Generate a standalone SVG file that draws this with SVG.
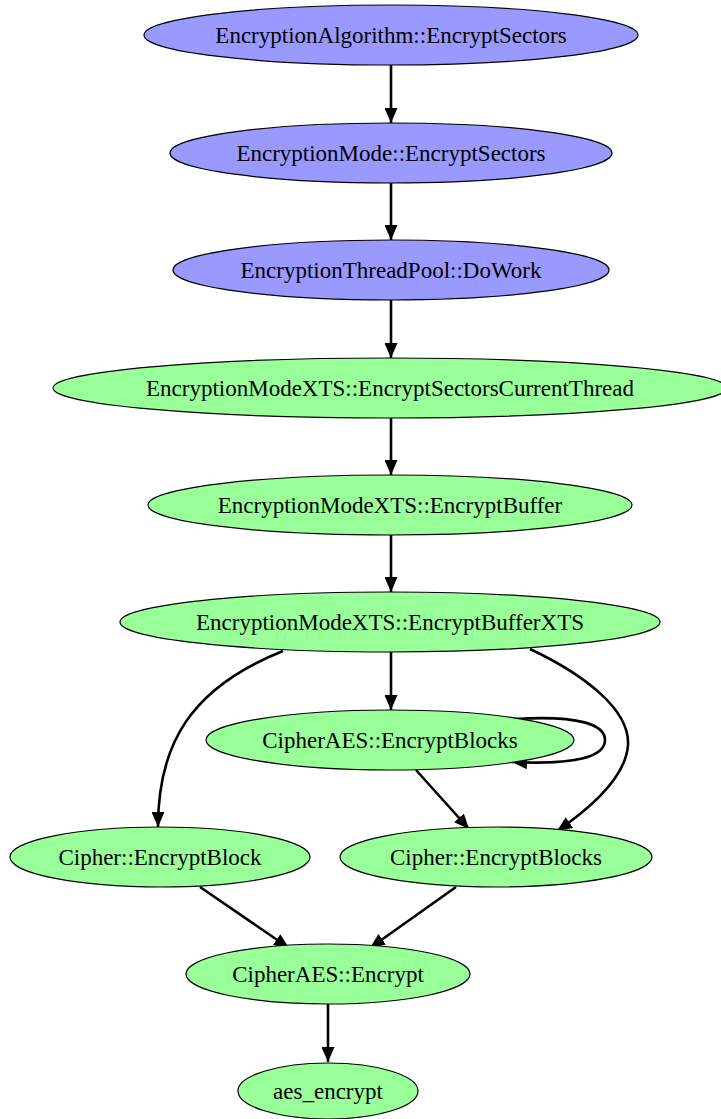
<svg xmlns="http://www.w3.org/2000/svg" width="721" height="1119" viewBox="0 0 721 1119">
<defs>
<style>
.n ellipse{stroke:#000;stroke-width:1.2}
.b ellipse{fill:#9999ff}
.g ellipse{fill:#99ff99}
text{font-family:"Liberation Serif","Times New Roman",serif;font-size:23px;text-anchor:middle;fill:#000}
.e path{fill:none;stroke:#000;stroke-width:2.6;marker-end:url(#ah)}
</style>
<marker id="ah" viewBox="0 0 15 13" refX="15" refY="6.5" markerWidth="15" markerHeight="13" markerUnits="userSpaceOnUse" orient="auto">
<path d="M0,0 L15,6.5 L0,13 z" fill="#000"/>
</marker>
</defs>
<rect width="721" height="1119" fill="#fff"/>
<g id="edges" class="e">
<path d="M391,65 V123"/>
<path d="M391,183 V240"/>
<path d="M391,300 V358"/>
<path d="M391,418 V475"/>
<path d="M391,535 V592"/>
<path d="M391,652 V710"/>
<path d="M283,651 C190,688 158,745 158,827"/>
<path d="M530,649 C585,675 630,710 628,745 C626,775 595,805 557,831"/>
<path d="M416,770 L469,829"/>
<path d="M515,719 C580,715 605,725 605,740 C605,757 575,765 512,762"/>
<path d="M200,887 L289,948"/>
<path d="M456,887 L370,948"/>
<path d="M328,1004 V1062"/>
</g>
<g id="n1" class="n b"><ellipse cx="391" cy="35" rx="247" ry="30"/><text x="391" y="43">EncryptionAlgorithm::EncryptSectors</text></g>
<g id="n2" class="n b"><ellipse cx="391" cy="153" rx="221" ry="30"/><text x="391" y="161">EncryptionMode::EncryptSectors</text></g>
<g id="n3" class="n b"><ellipse cx="391" cy="270" rx="218" ry="30"/><text x="391" y="278">EncryptionThreadPool::DoWork</text></g>
<g id="n4" class="n g"><ellipse cx="390" cy="388" rx="337" ry="30"/><text x="390" y="396">EncryptionModeXTS::EncryptSectorsCurrentThread</text></g>
<g id="n5" class="n g"><ellipse cx="390" cy="505" rx="242" ry="30"/><text x="390" y="513">EncryptionModeXTS::EncryptBuffer</text></g>
<g id="n6" class="n g"><ellipse cx="390" cy="622" rx="270" ry="30"/><text x="390" y="630">EncryptionModeXTS::EncryptBufferXTS</text></g>
<g id="n7" class="n g"><ellipse cx="390" cy="740" rx="184" ry="30"/><text x="390" y="748">CipherAES::EncryptBlocks</text></g>
<g id="n8" class="n g"><ellipse cx="160" cy="857" rx="150" ry="30"/><text x="160" y="865">Cipher::EncryptBlock</text></g>
<g id="n9" class="n g"><ellipse cx="496" cy="857" rx="156" ry="30"/><text x="496" y="865">Cipher::EncryptBlocks</text></g>
<g id="n10" class="n g"><ellipse cx="328" cy="974" rx="142" ry="30"/><text x="328" y="982">CipherAES::Encrypt</text></g>
<g id="n11" class="n g"><ellipse cx="328" cy="1091" rx="90" ry="28"/><text x="328" y="1099">aes_encrypt</text></g>
</svg>
